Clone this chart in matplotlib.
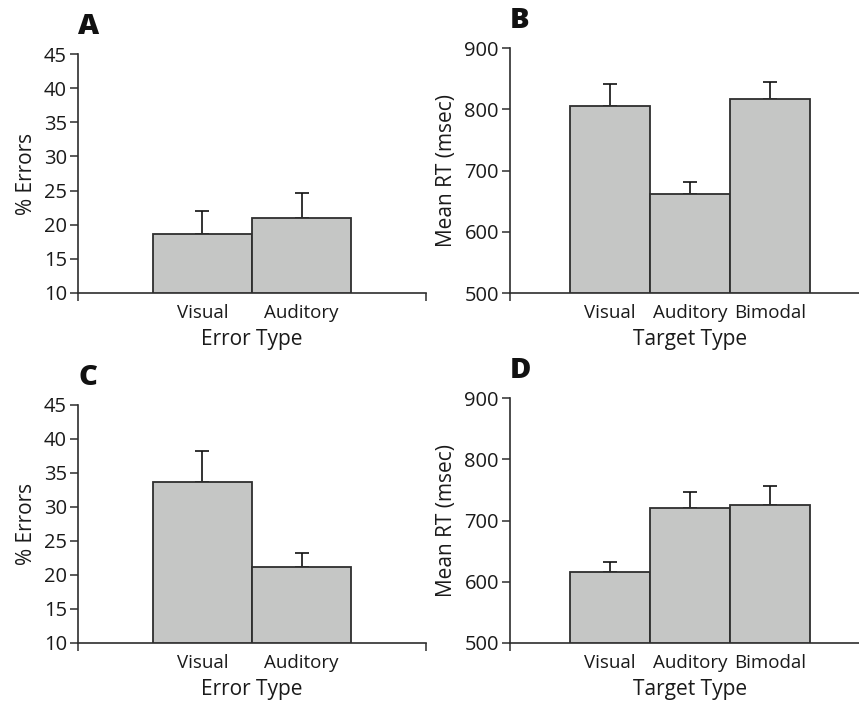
import matplotlib
matplotlib.use("Agg")
import matplotlib.pyplot as plt

# data
error_types = ["Visual", "Auditory"]
target_types = ["Visual", "Auditory", "Bimodal"]

errors_a = [18.6, 21.0]
errors_a_se = [3.4, 3.6]
rt_b = [805, 661, 816]
rt_b_se = [36, 20, 29]
errors_c = [33.7, 21.2]
errors_c_se = [4.6, 2.1]
rt_d = [616, 720, 726]
rt_d_se = [17, 27, 31]

plt.rcParams["font.family"] = ["Open Sans", "DejaVu Sans"]

W, H = 859, 704
BAR_COLOR = "#c5c6c5"
EDGE = "#2e2e2e"


def panel(rect_px, cats, vals, errs, ylim, yticks, ylabel, xlabel, letter, xmax):
    left, top, right, bottom = rect_px
    ax = fig.add_axes([left / W, 1 - bottom / H, (right - left) / W, (bottom - top) / H])
    x = list(range(len(cats)))
    ax.bar(x, [v - ylim[0] for v in vals], bottom=ylim[0], width=1.0,
           color=BAR_COLOR, edgecolor=EDGE, linewidth=1.3, zorder=3)
    ax.errorbar(x, vals, yerr=[[0] * len(errs), errs], fmt="none",
                ecolor="#111111", elinewidth=1.2, capsize=5, capthick=1.2, zorder=2)
    ax.set_xlim(-1.25, xmax)
    ax.set_ylim(*ylim)
    ax.set_yticks(yticks)
    ax.tick_params(axis="y", labelsize=14.5, length=6, width=1.1, color=EDGE,
                   labelcolor="#1a1a1a", pad=2)
    ax.set_xticks([-1.25, xmax])
    ax.set_xticklabels(["", ""])
    ax.tick_params(axis="x", which="major", length=6, width=1.1, color=EDGE)
    ax.set_xticks(x, minor=True)
    ax.set_xticklabels(cats, minor=True)
    ax.tick_params(axis="x", which="minor", length=0, labelsize=13.5,
                   labelcolor="#1a1a1a", pad=8)
    for s in ("top", "right"):
        ax.spines[s].set_visible(False)
    for s in ("left", "bottom"):
        ax.spines[s].set_linewidth(1.2)
        ax.spines[s].set_color(EDGE)
    ax.set_ylabel(ylabel, fontsize=15, color="#1a1a1a", labelpad=5)
    ax.set_xlabel(xlabel, fontsize=15, color="#1a1a1a", labelpad=5)
    fig.text(left / W, 1 - (top - 13) / H, letter, fontsize=21, fontweight="heavy",
             ha="left", va="bottom", color="#111111")
    return ax


fig = plt.figure(figsize=(W / 100, H / 100), dpi=100)

panel((78, 54, 426, 293), error_types, errors_a, errors_a_se, (10, 45),
      range(10, 50, 5), "% Errors", "Error Type", "A", 2.25)
panel((510, 48, 870, 293), target_types, rt_b, rt_b_se, (500, 900),
      range(500, 1000, 100), "Mean RT (msec)", "Target Type", "B", 3.25)
panel((78, 405, 426, 643), error_types, errors_c, errors_c_se, (10, 45),
      range(10, 50, 5), "% Errors", "Error Type", "C", 2.25)
panel((510, 398, 870, 643), target_types, rt_d, rt_d_se, (500, 900),
      range(500, 1000, 100), "Mean RT (msec)", "Target Type", "D", 3.25)

fig.savefig("out.png", dpi=100)
